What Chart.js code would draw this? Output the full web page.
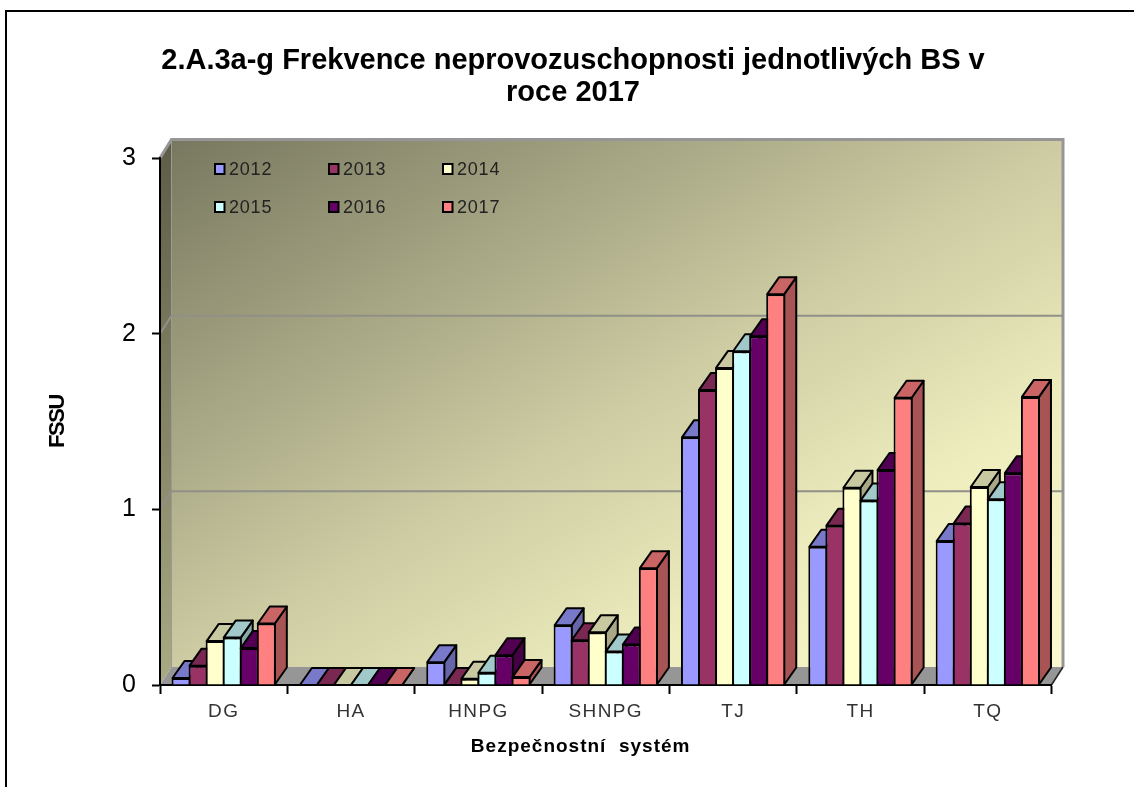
<!DOCTYPE html>
<html>
<head>
<meta charset="utf-8">
<style>html,body{margin:0;padding:0;background:#fff}canvas{display:block;filter:blur(0.35px)}</style>
<script src="https://cdn.jsdelivr.net/npm/chart.js@4/dist/chart.umd.min.js"></script>
</head>
<body>
<canvas id="c" width="1134" height="787"></canvas>
<script>
const categories = ['DG','HA','HNPG','SHNPG','TJ','TH','TQ'];
const yTicks = [0,1,2,3];
const titleLines = ['2.A.3a-g Frekvence neprovozuschopnosti jednotlivých BS v','roce 2017'];
const xAxisTitle = 'Bezpečnostní  systém';
const yAxisTitle = 'FSSU';
const seriesNames = ['2012','2013','2014','2015','2016','2017'];
const seriesColors = ['#9999FF','#993366','#FFFFCC','#CCFFFF','#660066','#FF8080'];
const v2012 = [0.04,0,0.13,0.34,1.41,0.787,0.82];
const v2013 = [0.11,0,0,0.255,1.68,0.907,0.92];
const v2014 = [0.25,0,0.035,0.30,1.805,1.123,1.127];
const v2015 = [0.27,0,0.07,0.19,1.90,1.05,1.057];
const v2016 = [0.21,0,0.17,0.23,1.986,1.224,1.206];
const v2017 = [0.35,0,0.045,0.665,2.225,1.635,1.64];
const seriesValues = [v2012,v2013,v2014,v2015,v2016,v2017];

const DX = 12, DY = 17;           // bar depth
const WX = 11.5, WY = 18;         // wall depth

function shade(hex,f){
  const n=parseInt(hex.slice(1),16);
  return 'rgb('+[(n>>16)&255,(n>>8)&255,n&255].map(c=>Math.round(c*f)).join(',')+')';
}
function poly(ctx,pts,fill,stroke,lw){
  ctx.beginPath();
  pts.forEach((p,i)=>i?ctx.lineTo(p[0],p[1]):ctx.moveTo(p[0],p[1]));
  ctx.closePath();
  if(fill){ctx.fillStyle=fill;ctx.fill();}
  if(stroke){ctx.strokeStyle=stroke;ctx.lineWidth=lw;ctx.lineJoin='round';ctx.stroke();}
}
function spaced(scale,method,ctx,sp){
  const orig=scale[method];
  scale[method]=function(a){ctx.letterSpacing=sp;orig.call(this,a);ctx.letterSpacing='0px';};
}

const scene = {
  id:'scene',
  afterLayout(chart){
    // centre of the title in the reference sits right of the page centre
    chart.titleBlock.left = 12; chart.titleBlock.right = 1134;
  },
  beforeDraw(chart){
    const ctx=chart.ctx, a=chart.chartArea, y=chart.scales.y, x=chart.scales.x;
    ctx.save();
    ctx.fillStyle='#fff';ctx.fillRect(0,0,chart.width,chart.height);
    // page frame
    ctx.strokeStyle='#000';ctx.lineWidth=2;
    ctx.beginPath();ctx.moveTo(6,chart.height);ctx.lineTo(6,11);ctx.lineTo(chart.width,11);ctx.stroke();

    const L=a.left,R=a.right,B=y.getPixelForValue(0),T=y.getPixelForValue(3);
    const wl=L+WX,wr=R+WX,wt=T-WY,wb=B-WY;
    // back wall
    const cx=(wl+wr)/2,cy=(wt+wb)/2,w=wr-wl,h=wb-wt,len=Math.hypot(w,h);
    const nx=h/len,ny=w/len,half=(w/2)*nx+(h/2)*ny;
    const g=ctx.createLinearGradient(cx-nx*half,cy-ny*half,cx+nx*half,cy+ny*half);
    g.addColorStop(0,'#787860');g.addColorStop(.5,'#cccba2');g.addColorStop(.75,'#eeedbe');g.addColorStop(1,'#fbf9cf');
    ctx.fillStyle=g;ctx.fillRect(wl,wt,w,h);
    // left wall
    const gl=ctx.createLinearGradient(0,wt,0,B);
    gl.addColorStop(0,'#5c5c48');gl.addColorStop(1,'#aaaa82');
    poly(ctx,[[L,T],[wl,wt],[wl,wb],[L,B]],gl);
    // floor
    poly(ctx,[[L,B],[wl,wb],[wr,wb],[R,B]],'#969696');
    // wall edges
    ctx.strokeStyle='#969696';ctx.lineWidth=3;
    ctx.beginPath();ctx.moveTo(L,T);ctx.lineTo(wl,wt-.5);ctx.lineTo(wr,wt-.5);ctx.lineTo(wr,wb);ctx.stroke();
    ctx.strokeStyle='#9a9a96';ctx.lineWidth=1;
    ctx.beginPath();ctx.moveTo(wl,wt);ctx.lineTo(wl,wb);ctx.stroke();
    // gridlines
    yTicks.slice(1,-1).forEach(t=>{
      const p=y.getPixelForValue(t);
      ctx.strokeStyle='#909088';ctx.lineWidth=2;
      ctx.beginPath();ctx.moveTo(L,p);ctx.lineTo(wl,p-WY);ctx.lineTo(wr,p-WY);ctx.stroke();
    });
    ctx.strokeStyle='#222';ctx.lineWidth=1.5;
    ctx.beginPath();ctx.moveTo(R,B);ctx.lineTo(wr,wb);ctx.stroke();
    ctx.restore();
    if(!chart._spaced){
      chart._spaced=true;
      spaced(x,'drawLabels',ctx,'1.4px');
      spaced(x,'drawTitle',ctx,'1px');
      spaced(y,'drawTitle',ctx,'-1.4px');
    }
  },
  // bars are painted left to right inside each group, so that each covers its left neighbour's side
  beforeDatasetsDraw(chart){
    const ctx=chart.ctx;
    seriesNames.forEach((n,i)=>{
      const meta=chart.getDatasetMeta(i),col=seriesColors[i];
      ctx.save();
      meta.data.forEach(b=>{
        const p=b.getProps(['x','y','base','width'],true);
        const l=p.x-p.width/2+1,r=p.x+p.width/2-1;
        poly(ctx,[[r,p.y],[r,p.base],[r+DX,p.base-DY],[r+DX,p.y-DY]],shade(col,.66),'#000',2);
        poly(ctx,[[l,p.y],[r,p.y],[r+DX,p.y-DY],[l+DX,p.y-DY]],shade(col,.79),'#000',2);
      });
      ctx.restore();
      meta.controller.draw();
    });
    return false;
  },
  afterDraw(chart){
    const ctx=chart.ctx;
    ctx.save();
    const cols=[214,328,442],rows=[169,207];
    ctx.font='18px "Liberation Sans"';ctx.textBaseline='middle';ctx.textAlign='left';
    ctx.letterSpacing='0.8px';
    seriesNames.forEach((n,i)=>{
      const xx=cols[i%3],yy=rows[Math.floor(i/3)];
      ctx.fillStyle=seriesColors[i];ctx.strokeStyle='#000';ctx.lineWidth=2;
      ctx.fillRect(xx+1,yy-5,9.5,10);ctx.strokeRect(xx+1,yy-5,9.5,10);
      ctx.fillStyle='#222';
      ctx.fillText(n,xx+15,yy+1);
    });
    ctx.letterSpacing='0px';
    ctx.restore();
  }
};

new Chart(document.getElementById('c'),{
  type:'bar',
  data:{
    labels:categories,
    datasets:seriesNames.map((n,i)=>({
      label:n,
      data:seriesValues[i],
      backgroundColor:seriesColors[i],
      borderColor:'#000',
      borderWidth:2,
      borderSkipped:'bottom',
      inflateAmount:0,
      clip:false,
      categoryPercentage:102/127,
      barPercentage:19/17
    }))
  },
  plugins:[scene],
  options:{
    responsive:false,
    animation:false,
    devicePixelRatio:1,
    layout:{padding:{left:0,right:82.5,top:0,bottom:0}},
    plugins:{
      legend:{display:false},
      tooltip:{enabled:false},
      title:{
        display:true,
        text:titleLines,
        color:'#000',
        font:{family:'"Liberation Sans"',size:29,weight:'bold',lineHeight:32/29},
        padding:{top:45,bottom:49}
      }
    },
    scales:{
      x:{
        afterFit(s){s.height=102;},
        grid:{display:true,drawOnChartArea:false,drawTicks:true,tickLength:9,tickColor:'#000',tickWidth:2,offset:true},
        border:{display:true,color:'#000',width:2},
        ticks:{color:'#333',font:{family:'"Liberation Sans"',size:19},padding:6,maxRotation:0},
        title:{display:true,text:xAxisTitle+'        ',color:'#000',font:{family:'"Liberation Sans"',size:19,weight:'bold',lineHeight:1.15},padding:{top:29,bottom:29}}
      },
      y:{
        min:0,max:3,
        afterFit(s){s.width=160;},
        afterBuildTicks(s){s.ticks=yTicks.map(v=>({value:v}));},
        grid:{display:true,drawOnChartArea:false,drawTicks:true,tickLength:8,tickColor:'#000',tickWidth:2},
        border:{display:true,color:'#000',width:2},
        ticks:{color:'#000',font:{family:'"Liberation Sans"',size:25},padding:16},
        title:{display:true,text:yAxisTitle,color:'#000',font:{family:'"Liberation Sans"',size:22,weight:'bold',lineHeight:1.15},padding:{top:45,bottom:45}}
      }
    }
  }
});
</script>
</body>
</html>
